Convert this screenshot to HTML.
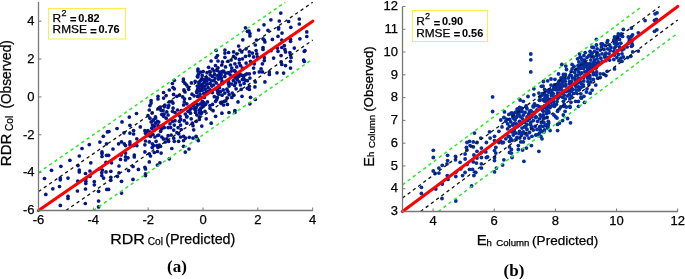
<!DOCTYPE html>
<html><head><meta charset="utf-8"><style>
html,body{margin:0;padding:0;background:#fff;overflow:hidden;}
svg{display:block;will-change:transform;}
text{stroke:#000;stroke-width:0.25px;}
</style></head><body>
<svg width="685" height="279" viewBox="0 0 685 279">
<g fill="#02168a">
<circle cx="51.5" cy="170.3" r="1.85"/>
<circle cx="60.9" cy="166.3" r="1.85"/>
<circle cx="69.9" cy="160.3" r="1.85"/>
<circle cx="79.3" cy="156.0" r="1.85"/>
<circle cx="82.0" cy="148.5" r="1.85"/>
<circle cx="89.3" cy="144.6" r="1.85"/>
<circle cx="99.9" cy="142.1" r="1.85"/>
<circle cx="106.5" cy="143.8" r="1.85"/>
<circle cx="102.0" cy="151.9" r="1.85"/>
<circle cx="102.0" cy="153.5" r="1.85"/>
<circle cx="102.0" cy="156.5" r="1.85"/>
<circle cx="106.5" cy="155.3" r="1.85"/>
<circle cx="90.8" cy="162.8" r="1.85"/>
<circle cx="78.0" cy="165.6" r="1.85"/>
<circle cx="79.3" cy="170.0" r="1.85"/>
<circle cx="79.3" cy="171.9" r="1.85"/>
<circle cx="85.5" cy="173.5" r="1.85"/>
<circle cx="89.9" cy="171.0" r="1.85"/>
<circle cx="99.3" cy="168.8" r="1.85"/>
<circle cx="102.4" cy="170.0" r="1.85"/>
<circle cx="101.8" cy="172.5" r="1.85"/>
<circle cx="106.0" cy="162.3" r="1.85"/>
<circle cx="106.0" cy="171.9" r="1.85"/>
<circle cx="44.5" cy="178.5" r="1.85"/>
<circle cx="60.3" cy="178.1" r="1.85"/>
<circle cx="60.3" cy="179.8" r="1.85"/>
<circle cx="68.0" cy="178.1" r="1.85"/>
<circle cx="52.8" cy="188.8" r="1.85"/>
<circle cx="59.5" cy="186.5" r="1.85"/>
<circle cx="45.8" cy="194.4" r="1.85"/>
<circle cx="68.0" cy="196.3" r="1.85"/>
<circle cx="68.0" cy="198.5" r="1.85"/>
<circle cx="60.3" cy="205.4" r="1.85"/>
<circle cx="77.4" cy="191.0" r="1.85"/>
<circle cx="77.8" cy="181.0" r="1.85"/>
<circle cx="85.8" cy="178.8" r="1.85"/>
<circle cx="85.8" cy="181.3" r="1.85"/>
<circle cx="85.8" cy="183.5" r="1.85"/>
<circle cx="85.5" cy="189.0" r="1.85"/>
<circle cx="89.9" cy="176.3" r="1.85"/>
<circle cx="94.3" cy="181.5" r="1.85"/>
<circle cx="94.3" cy="184.8" r="1.85"/>
<circle cx="98.6" cy="191.3" r="1.85"/>
<circle cx="101.8" cy="175.6" r="1.85"/>
<circle cx="103.6" cy="178.1" r="1.85"/>
<circle cx="106.8" cy="189.4" r="1.85"/>
<circle cx="85.3" cy="203.5" r="1.85"/>
<circle cx="98.6" cy="201.0" r="1.85"/>
<circle cx="98.6" cy="206.9" r="1.85"/>
<circle cx="110.8" cy="177.3" r="1.85"/>
<circle cx="110.8" cy="180.3" r="1.85"/>
<circle cx="117.4" cy="176.3" r="1.85"/>
<circle cx="121.5" cy="181.3" r="1.85"/>
<circle cx="133.0" cy="179.4" r="1.85"/>
<circle cx="145.5" cy="175.6" r="1.85"/>
<circle cx="108.6" cy="189.4" r="1.85"/>
<circle cx="121.5" cy="193.1" r="1.85"/>
<circle cx="113.0" cy="149.0" r="1.85"/>
<circle cx="108.6" cy="155.3" r="1.85"/>
<circle cx="111.5" cy="162.8" r="1.85"/>
<circle cx="110.8" cy="171.3" r="1.85"/>
<circle cx="119.0" cy="166.0" r="1.85"/>
<circle cx="119.0" cy="172.8" r="1.85"/>
<circle cx="120.5" cy="159.4" r="1.85"/>
<circle cx="121.1" cy="155.0" r="1.85"/>
<circle cx="125.5" cy="153.1" r="1.85"/>
<circle cx="125.5" cy="156.9" r="1.85"/>
<circle cx="125.5" cy="160.0" r="1.85"/>
<circle cx="128.0" cy="157.8" r="1.85"/>
<circle cx="134.3" cy="155.0" r="1.85"/>
<circle cx="134.3" cy="156.9" r="1.85"/>
<circle cx="128.6" cy="170.6" r="1.85"/>
<circle cx="133.0" cy="166.5" r="1.85"/>
<circle cx="138.4" cy="169.4" r="1.85"/>
<circle cx="118.6" cy="143.8" r="1.85"/>
<circle cx="121.5" cy="141.9" r="1.85"/>
<circle cx="124.3" cy="143.8" r="1.85"/>
<circle cx="125.5" cy="145.6" r="1.85"/>
<circle cx="129.9" cy="141.9" r="1.85"/>
<circle cx="129.9" cy="144.4" r="1.85"/>
<circle cx="133.6" cy="145.6" r="1.85"/>
<circle cx="136.8" cy="145.6" r="1.85"/>
<circle cx="144.9" cy="144.8" r="1.85"/>
<circle cx="144.9" cy="151.9" r="1.85"/>
<circle cx="145.5" cy="141.0" r="1.85"/>
<circle cx="149.3" cy="141.9" r="1.85"/>
<circle cx="149.3" cy="153.8" r="1.85"/>
<circle cx="150.5" cy="156.0" r="1.85"/>
<circle cx="149.3" cy="161.9" r="1.85"/>
<circle cx="144.9" cy="167.3" r="1.85"/>
<circle cx="145.5" cy="169.0" r="1.85"/>
<circle cx="152.4" cy="143.8" r="1.85"/>
<circle cx="153.6" cy="145.6" r="1.85"/>
<circle cx="156.1" cy="141.3" r="1.85"/>
<circle cx="156.8" cy="145.6" r="1.85"/>
<circle cx="159.3" cy="145.0" r="1.85"/>
<circle cx="158.0" cy="147.5" r="1.85"/>
<circle cx="160.5" cy="146.3" r="1.85"/>
<circle cx="154.3" cy="152.5" r="1.85"/>
<circle cx="157.4" cy="151.5" r="1.85"/>
<circle cx="161.1" cy="153.1" r="1.85"/>
<circle cx="159.9" cy="162.8" r="1.85"/>
<circle cx="157.4" cy="165.0" r="1.85"/>
<circle cx="169.3" cy="158.8" r="1.85"/>
<circle cx="171.8" cy="148.5" r="1.85"/>
<circle cx="168.6" cy="141.3" r="1.85"/>
<circle cx="174.3" cy="141.3" r="1.85"/>
<circle cx="145.5" cy="173.8" r="1.85"/>
<circle cx="178.6" cy="141.3" r="1.85"/>
<circle cx="183.6" cy="140.6" r="1.85"/>
<circle cx="183.6" cy="146.3" r="1.85"/>
<circle cx="189.0" cy="149.0" r="1.85"/>
<circle cx="185.3" cy="152.1" r="1.85"/>
<circle cx="198.3" cy="140.6" r="1.85"/>
<circle cx="103.3" cy="136.3" r="1.85"/>
<circle cx="107.4" cy="131.9" r="1.85"/>
<circle cx="109.0" cy="131.5" r="1.85"/>
<circle cx="117.0" cy="128.5" r="1.85"/>
<circle cx="122.0" cy="121.9" r="1.85"/>
<circle cx="129.3" cy="117.1" r="1.85"/>
<circle cx="136.5" cy="113.5" r="1.85"/>
<circle cx="129.9" cy="125.3" r="1.85"/>
<circle cx="124.0" cy="132.8" r="1.85"/>
<circle cx="129.9" cy="133.1" r="1.85"/>
<circle cx="133.6" cy="130.6" r="1.85"/>
<circle cx="133.6" cy="134.0" r="1.85"/>
<circle cx="140.3" cy="126.9" r="1.85"/>
<circle cx="136.8" cy="138.8" r="1.85"/>
<circle cx="149.9" cy="105.6" r="1.85"/>
<circle cx="149.3" cy="110.0" r="1.85"/>
<circle cx="158.0" cy="108.8" r="1.85"/>
<circle cx="148.0" cy="115.7" r="1.85"/>
<circle cx="149.9" cy="118.2" r="1.85"/>
<circle cx="151.2" cy="121.9" r="1.85"/>
<circle cx="153.0" cy="120.7" r="1.85"/>
<circle cx="155.5" cy="123.2" r="1.85"/>
<circle cx="157.4" cy="121.3" r="1.85"/>
<circle cx="152.4" cy="125.1" r="1.85"/>
<circle cx="154.3" cy="126.3" r="1.85"/>
<circle cx="151.8" cy="128.2" r="1.85"/>
<circle cx="144.9" cy="130.7" r="1.85"/>
<circle cx="145.5" cy="133.2" r="1.85"/>
<circle cx="154.3" cy="130.1" r="1.85"/>
<circle cx="150.5" cy="132.0" r="1.85"/>
<circle cx="153.0" cy="134.5" r="1.85"/>
<circle cx="150.5" cy="136.3" r="1.85"/>
<circle cx="154.9" cy="137.0" r="1.85"/>
<circle cx="158.7" cy="135.1" r="1.85"/>
<circle cx="160.6" cy="131.3" r="1.85"/>
<circle cx="161.8" cy="137.0" r="1.85"/>
<circle cx="161.8" cy="114.4" r="1.85"/>
<circle cx="163.7" cy="116.3" r="1.85"/>
<circle cx="163.1" cy="110.6" r="1.85"/>
<circle cx="166.8" cy="111.9" r="1.85"/>
<circle cx="168.1" cy="107.5" r="1.85"/>
<circle cx="168.1" cy="115.0" r="1.85"/>
<circle cx="166.2" cy="118.2" r="1.85"/>
<circle cx="168.7" cy="105.6" r="1.85"/>
<circle cx="173.1" cy="108.1" r="1.85"/>
<circle cx="172.5" cy="111.3" r="1.85"/>
<circle cx="175.0" cy="112.5" r="1.85"/>
<circle cx="177.5" cy="110.0" r="1.85"/>
<circle cx="178.1" cy="114.4" r="1.85"/>
<circle cx="180.0" cy="116.3" r="1.85"/>
<circle cx="181.2" cy="110.6" r="1.85"/>
<circle cx="172.5" cy="121.3" r="1.85"/>
<circle cx="175.0" cy="120.7" r="1.85"/>
<circle cx="179.4" cy="121.3" r="1.85"/>
<circle cx="180.6" cy="119.4" r="1.85"/>
<circle cx="170.0" cy="123.8" r="1.85"/>
<circle cx="174.3" cy="125.1" r="1.85"/>
<circle cx="168.1" cy="127.6" r="1.85"/>
<circle cx="170.6" cy="127.6" r="1.85"/>
<circle cx="164.3" cy="127.6" r="1.85"/>
<circle cx="161.8" cy="128.8" r="1.85"/>
<circle cx="173.7" cy="130.1" r="1.85"/>
<circle cx="178.1" cy="127.6" r="1.85"/>
<circle cx="180.6" cy="125.1" r="1.85"/>
<circle cx="181.2" cy="129.5" r="1.85"/>
<circle cx="176.9" cy="132.6" r="1.85"/>
<circle cx="178.7" cy="133.8" r="1.85"/>
<circle cx="171.2" cy="135.1" r="1.85"/>
<circle cx="168.1" cy="135.7" r="1.85"/>
<circle cx="180.6" cy="137.0" r="1.85"/>
<circle cx="173.7" cy="138.2" r="1.85"/>
<circle cx="166.8" cy="138.9" r="1.85"/>
<circle cx="163.1" cy="125.1" r="1.85"/>
<circle cx="158.0" cy="125.7" r="1.85"/>
<circle cx="184.3" cy="101.9" r="1.85"/>
<circle cx="186.8" cy="103.8" r="1.85"/>
<circle cx="183.6" cy="105.0" r="1.85"/>
<circle cx="188.0" cy="111.3" r="1.85"/>
<circle cx="189.9" cy="110.0" r="1.85"/>
<circle cx="190.5" cy="113.2" r="1.85"/>
<circle cx="186.8" cy="116.3" r="1.85"/>
<circle cx="184.3" cy="120.7" r="1.85"/>
<circle cx="186.8" cy="123.2" r="1.85"/>
<circle cx="191.2" cy="118.8" r="1.85"/>
<circle cx="192.4" cy="123.2" r="1.85"/>
<circle cx="193.0" cy="125.7" r="1.85"/>
<circle cx="193.7" cy="129.8" r="1.85"/>
<circle cx="196.2" cy="121.3" r="1.85"/>
<circle cx="196.2" cy="107.5" r="1.85"/>
<circle cx="195.5" cy="112.5" r="1.85"/>
<circle cx="196.8" cy="115.0" r="1.85"/>
<circle cx="199.3" cy="110.0" r="1.85"/>
<circle cx="199.3" cy="116.9" r="1.85"/>
<circle cx="199.3" cy="119.4" r="1.85"/>
<circle cx="200.6" cy="103.8" r="1.85"/>
<circle cx="201.8" cy="107.5" r="1.85"/>
<circle cx="201.8" cy="112.5" r="1.85"/>
<circle cx="202.4" cy="101.3" r="1.85"/>
<circle cx="204.3" cy="105.0" r="1.85"/>
<circle cx="205.0" cy="111.3" r="1.85"/>
<circle cx="206.2" cy="118.8" r="1.85"/>
<circle cx="201.8" cy="126.1" r="1.85"/>
<circle cx="207.5" cy="101.9" r="1.85"/>
<circle cx="210.0" cy="105.6" r="1.85"/>
<circle cx="210.0" cy="108.2" r="1.85"/>
<circle cx="212.5" cy="104.4" r="1.85"/>
<circle cx="213.1" cy="110.7" r="1.85"/>
<circle cx="215.6" cy="101.3" r="1.85"/>
<circle cx="215.6" cy="116.3" r="1.85"/>
<circle cx="211.2" cy="123.2" r="1.85"/>
<circle cx="220.6" cy="102.5" r="1.85"/>
<circle cx="221.9" cy="113.2" r="1.85"/>
<circle cx="198.0" cy="105.0" r="1.85"/>
<circle cx="194.3" cy="108.8" r="1.85"/>
<circle cx="183.6" cy="136.3" r="1.85"/>
<circle cx="185.5" cy="138.1" r="1.85"/>
<circle cx="189.3" cy="137.3" r="1.85"/>
<circle cx="193.0" cy="138.1" r="1.85"/>
<circle cx="196.1" cy="136.3" r="1.85"/>
<circle cx="197.4" cy="138.8" r="1.85"/>
<circle cx="224.3" cy="101.3" r="1.85"/>
<circle cx="223.6" cy="105.0" r="1.85"/>
<circle cx="227.4" cy="104.4" r="1.85"/>
<circle cx="238.0" cy="101.9" r="1.85"/>
<circle cx="229.0" cy="112.5" r="1.85"/>
<circle cx="234.9" cy="110.6" r="1.85"/>
<circle cx="234.9" cy="112.5" r="1.85"/>
<circle cx="174.3" cy="80.3" r="1.85"/>
<circle cx="172.4" cy="83.5" r="1.85"/>
<circle cx="173.0" cy="87.5" r="1.85"/>
<circle cx="174.3" cy="88.8" r="1.85"/>
<circle cx="169.3" cy="90.0" r="1.85"/>
<circle cx="163.6" cy="92.5" r="1.85"/>
<circle cx="166.1" cy="95.6" r="1.85"/>
<circle cx="163.6" cy="98.1" r="1.85"/>
<circle cx="158.0" cy="96.3" r="1.85"/>
<circle cx="158.0" cy="99.0" r="1.85"/>
<circle cx="151.1" cy="100.6" r="1.85"/>
<circle cx="151.1" cy="103.1" r="1.85"/>
<circle cx="173.6" cy="94.4" r="1.85"/>
<circle cx="176.8" cy="96.3" r="1.85"/>
<circle cx="169.3" cy="101.9" r="1.85"/>
<circle cx="171.8" cy="101.3" r="1.85"/>
<circle cx="173.0" cy="103.1" r="1.85"/>
<circle cx="242.8" cy="39.8" r="1.85"/>
<circle cx="238.6" cy="46.0" r="1.85"/>
<circle cx="239.9" cy="50.0" r="1.85"/>
<circle cx="241.8" cy="51.9" r="1.85"/>
<circle cx="233.6" cy="51.9" r="1.85"/>
<circle cx="228.6" cy="52.5" r="1.85"/>
<circle cx="224.9" cy="50.0" r="1.85"/>
<circle cx="224.9" cy="53.1" r="1.85"/>
<circle cx="216.1" cy="50.3" r="1.85"/>
<circle cx="217.4" cy="55.6" r="1.85"/>
<circle cx="216.1" cy="57.5" r="1.85"/>
<circle cx="224.9" cy="57.3" r="1.85"/>
<circle cx="211.1" cy="61.0" r="1.85"/>
<circle cx="218.0" cy="61.0" r="1.85"/>
<circle cx="222.4" cy="61.9" r="1.85"/>
<circle cx="228.0" cy="61.3" r="1.85"/>
<circle cx="233.6" cy="56.3" r="1.85"/>
<circle cx="235.5" cy="58.1" r="1.85"/>
<circle cx="236.8" cy="53.8" r="1.85"/>
<circle cx="231.1" cy="60.0" r="1.85"/>
<circle cx="239.3" cy="59.4" r="1.85"/>
<circle cx="242.4" cy="58.8" r="1.85"/>
<circle cx="245.5" cy="56.3" r="1.85"/>
<circle cx="208.6" cy="67.3" r="1.85"/>
<circle cx="198.0" cy="69.0" r="1.85"/>
<circle cx="215.5" cy="65.6" r="1.85"/>
<circle cx="218.0" cy="67.8" r="1.85"/>
<circle cx="221.8" cy="65.0" r="1.85"/>
<circle cx="225.5" cy="66.9" r="1.85"/>
<circle cx="230.5" cy="65.0" r="1.85"/>
<circle cx="231.8" cy="68.1" r="1.85"/>
<circle cx="234.9" cy="63.8" r="1.85"/>
<circle cx="236.8" cy="66.9" r="1.85"/>
<circle cx="239.3" cy="63.1" r="1.85"/>
<circle cx="240.5" cy="65.6" r="1.85"/>
<circle cx="242.4" cy="68.1" r="1.85"/>
<circle cx="246.1" cy="63.1" r="1.85"/>
<circle cx="212.4" cy="69.0" r="1.85"/>
<circle cx="246.1" cy="48.8" r="1.85"/>
<circle cx="245.5" cy="27.8" r="1.85"/>
<circle cx="247.4" cy="31.3" r="1.85"/>
<circle cx="280.8" cy="13.1" r="1.85"/>
<circle cx="270.9" cy="19.8" r="1.85"/>
<circle cx="279.3" cy="21.0" r="1.85"/>
<circle cx="264.0" cy="24.8" r="1.85"/>
<circle cx="258.6" cy="30.0" r="1.85"/>
<circle cx="268.0" cy="30.3" r="1.85"/>
<circle cx="278.6" cy="27.5" r="1.85"/>
<circle cx="278.6" cy="29.0" r="1.85"/>
<circle cx="282.0" cy="33.1" r="1.85"/>
<circle cx="288.6" cy="21.5" r="1.85"/>
<circle cx="290.8" cy="27.3" r="1.85"/>
<circle cx="299.3" cy="19.0" r="1.85"/>
<circle cx="299.3" cy="24.0" r="1.85"/>
<circle cx="306.8" cy="31.9" r="1.85"/>
<circle cx="249.0" cy="31.0" r="1.85"/>
<circle cx="249.9" cy="33.5" r="1.85"/>
<circle cx="249.9" cy="36.0" r="1.85"/>
<circle cx="256.5" cy="40.0" r="1.85"/>
<circle cx="255.3" cy="45.0" r="1.85"/>
<circle cx="263.0" cy="38.8" r="1.85"/>
<circle cx="264.3" cy="40.0" r="1.85"/>
<circle cx="264.9" cy="41.9" r="1.85"/>
<circle cx="272.4" cy="39.4" r="1.85"/>
<circle cx="278.0" cy="36.3" r="1.85"/>
<circle cx="281.8" cy="40.0" r="1.85"/>
<circle cx="290.5" cy="39.4" r="1.85"/>
<circle cx="290.5" cy="41.3" r="1.85"/>
<circle cx="263.0" cy="47.5" r="1.85"/>
<circle cx="263.0" cy="49.4" r="1.85"/>
<circle cx="249.3" cy="51.9" r="1.85"/>
<circle cx="252.4" cy="53.1" r="1.85"/>
<circle cx="256.1" cy="50.6" r="1.85"/>
<circle cx="256.8" cy="53.8" r="1.85"/>
<circle cx="249.3" cy="55.6" r="1.85"/>
<circle cx="253.6" cy="56.9" r="1.85"/>
<circle cx="257.4" cy="56.9" r="1.85"/>
<circle cx="250.5" cy="61.3" r="1.85"/>
<circle cx="254.3" cy="63.8" r="1.85"/>
<circle cx="253.6" cy="68.1" r="1.85"/>
<circle cx="261.1" cy="68.8" r="1.85"/>
<circle cx="262.4" cy="63.8" r="1.85"/>
<circle cx="264.3" cy="57.5" r="1.85"/>
<circle cx="264.3" cy="60.6" r="1.85"/>
<circle cx="271.1" cy="50.6" r="1.85"/>
<circle cx="273.6" cy="58.1" r="1.85"/>
<circle cx="277.4" cy="48.1" r="1.85"/>
<circle cx="278.0" cy="51.3" r="1.85"/>
<circle cx="281.8" cy="47.5" r="1.85"/>
<circle cx="284.3" cy="45.6" r="1.85"/>
<circle cx="284.9" cy="49.4" r="1.85"/>
<circle cx="285.5" cy="51.9" r="1.85"/>
<circle cx="281.1" cy="55.6" r="1.85"/>
<circle cx="281.1" cy="61.9" r="1.85"/>
<circle cx="281.8" cy="64.4" r="1.85"/>
<circle cx="285.5" cy="65.6" r="1.85"/>
<circle cx="289.9" cy="52.5" r="1.85"/>
<circle cx="290.5" cy="55.0" r="1.85"/>
<circle cx="291.1" cy="57.5" r="1.85"/>
<circle cx="290.5" cy="61.3" r="1.85"/>
<circle cx="290.5" cy="68.1" r="1.85"/>
<circle cx="294.3" cy="48.1" r="1.85"/>
<circle cx="299.9" cy="38.8" r="1.85"/>
<circle cx="306.8" cy="36.5" r="1.85"/>
<circle cx="304.3" cy="51.3" r="1.85"/>
<circle cx="304.9" cy="50.6" r="1.85"/>
<circle cx="303.6" cy="60.0" r="1.85"/>
<circle cx="304.3" cy="61.5" r="1.85"/>
<circle cx="249.3" cy="73.8" r="1.85"/>
<circle cx="249.9" cy="78.1" r="1.85"/>
<circle cx="254.3" cy="72.8" r="1.85"/>
<circle cx="259.3" cy="71.9" r="1.85"/>
<circle cx="262.4" cy="71.9" r="1.85"/>
<circle cx="269.3" cy="71.9" r="1.85"/>
<circle cx="269.3" cy="74.4" r="1.85"/>
<circle cx="277.0" cy="72.8" r="1.85"/>
<circle cx="283.6" cy="73.1" r="1.85"/>
<circle cx="255.3" cy="81.9" r="1.85"/>
<circle cx="264.9" cy="81.9" r="1.85"/>
<circle cx="249.3" cy="86.3" r="1.85"/>
<circle cx="254.9" cy="86.9" r="1.85"/>
<circle cx="249.3" cy="89.4" r="1.85"/>
<circle cx="250.5" cy="97.3" r="1.85"/>
<circle cx="255.3" cy="99.4" r="1.85"/>
<circle cx="249.9" cy="103.8" r="1.85"/>
<circle cx="183.4" cy="79.1" r="1.85"/>
<circle cx="183.4" cy="81.3" r="1.85"/>
<circle cx="185.0" cy="83.4" r="1.85"/>
<circle cx="186.6" cy="85.0" r="1.85"/>
<circle cx="188.2" cy="87.2" r="1.85"/>
<circle cx="188.7" cy="89.3" r="1.85"/>
<circle cx="183.9" cy="89.9" r="1.85"/>
<circle cx="185.0" cy="92.0" r="1.85"/>
<circle cx="179.6" cy="95.2" r="1.85"/>
<circle cx="182.8" cy="96.9" r="1.85"/>
<circle cx="191.4" cy="82.9" r="1.85"/>
<circle cx="195.2" cy="81.3" r="1.85"/>
<circle cx="192.0" cy="94.2" r="1.85"/>
<circle cx="194.1" cy="95.8" r="1.85"/>
<circle cx="189.8" cy="98.5" r="1.85"/>
<circle cx="197.9" cy="71.1" r="1.85"/>
<circle cx="200.6" cy="72.1" r="1.85"/>
<circle cx="203.2" cy="71.6" r="1.85"/>
<circle cx="198.4" cy="74.3" r="1.85"/>
<circle cx="197.9" cy="77.0" r="1.85"/>
<circle cx="202.2" cy="75.4" r="1.85"/>
<circle cx="207.0" cy="72.7" r="1.85"/>
<circle cx="209.7" cy="71.6" r="1.85"/>
<circle cx="210.2" cy="74.8" r="1.85"/>
<circle cx="206.5" cy="77.5" r="1.85"/>
<circle cx="204.3" cy="79.7" r="1.85"/>
<circle cx="201.1" cy="80.2" r="1.85"/>
<circle cx="198.9" cy="82.9" r="1.85"/>
<circle cx="199.5" cy="85.6" r="1.85"/>
<circle cx="202.2" cy="84.0" r="1.85"/>
<circle cx="204.3" cy="82.4" r="1.85"/>
<circle cx="207.0" cy="80.7" r="1.85"/>
<circle cx="209.1" cy="79.1" r="1.85"/>
<circle cx="211.3" cy="80.7" r="1.85"/>
<circle cx="207.5" cy="84.0" r="1.85"/>
<circle cx="210.2" cy="83.4" r="1.85"/>
<circle cx="211.8" cy="86.1" r="1.85"/>
<circle cx="204.9" cy="86.1" r="1.85"/>
<circle cx="202.7" cy="87.7" r="1.85"/>
<circle cx="198.4" cy="88.3" r="1.85"/>
<circle cx="199.5" cy="90.9" r="1.85"/>
<circle cx="202.2" cy="90.4" r="1.85"/>
<circle cx="205.4" cy="89.3" r="1.85"/>
<circle cx="208.1" cy="87.7" r="1.85"/>
<circle cx="210.2" cy="89.9" r="1.85"/>
<circle cx="205.9" cy="92.6" r="1.85"/>
<circle cx="203.8" cy="93.6" r="1.85"/>
<circle cx="200.0" cy="94.2" r="1.85"/>
<circle cx="197.9" cy="96.3" r="1.85"/>
<circle cx="201.1" cy="97.4" r="1.85"/>
<circle cx="208.1" cy="91.5" r="1.85"/>
<circle cx="196.8" cy="92.6" r="1.85"/>
<circle cx="197.3" cy="86.1" r="1.85"/>
<circle cx="212.4" cy="76.4" r="1.85"/>
<circle cx="212.4" cy="92.6" r="1.85"/>
<circle cx="214.1" cy="71.1" r="1.85"/>
<circle cx="217.3" cy="70.5" r="1.85"/>
<circle cx="219.4" cy="72.1" r="1.85"/>
<circle cx="214.6" cy="74.3" r="1.85"/>
<circle cx="217.8" cy="75.4" r="1.85"/>
<circle cx="221.1" cy="74.8" r="1.85"/>
<circle cx="215.1" cy="78.1" r="1.85"/>
<circle cx="218.4" cy="79.1" r="1.85"/>
<circle cx="221.6" cy="78.1" r="1.85"/>
<circle cx="223.7" cy="71.1" r="1.85"/>
<circle cx="225.4" cy="73.2" r="1.85"/>
<circle cx="228.0" cy="72.7" r="1.85"/>
<circle cx="230.2" cy="74.8" r="1.85"/>
<circle cx="224.8" cy="76.4" r="1.85"/>
<circle cx="214.1" cy="80.7" r="1.85"/>
<circle cx="216.2" cy="82.9" r="1.85"/>
<circle cx="213.5" cy="85.0" r="1.85"/>
<circle cx="231.3" cy="71.1" r="1.85"/>
<circle cx="234.5" cy="70.5" r="1.85"/>
<circle cx="219.4" cy="87.7" r="1.85"/>
<circle cx="217.3" cy="90.4" r="1.85"/>
<circle cx="220.5" cy="91.5" r="1.85"/>
<circle cx="223.2" cy="89.9" r="1.85"/>
<circle cx="218.9" cy="94.2" r="1.85"/>
<circle cx="222.1" cy="95.2" r="1.85"/>
<circle cx="217.3" cy="97.4" r="1.85"/>
<circle cx="224.8" cy="93.1" r="1.85"/>
<circle cx="228.0" cy="91.5" r="1.85"/>
<circle cx="229.1" cy="94.7" r="1.85"/>
<circle cx="232.3" cy="93.1" r="1.85"/>
<circle cx="233.9" cy="95.2" r="1.85"/>
<circle cx="227.0" cy="97.9" r="1.85"/>
<circle cx="231.8" cy="97.4" r="1.85"/>
<circle cx="229.1" cy="86.1" r="1.85"/>
<circle cx="231.8" cy="84.0" r="1.85"/>
<circle cx="233.4" cy="80.7" r="1.85"/>
<circle cx="235.6" cy="82.9" r="1.85"/>
<circle cx="234.5" cy="85.6" r="1.85"/>
<circle cx="237.2" cy="79.7" r="1.85"/>
<circle cx="239.3" cy="81.8" r="1.85"/>
<circle cx="240.4" cy="85.0" r="1.85"/>
<circle cx="237.7" cy="75.9" r="1.85"/>
<circle cx="239.9" cy="73.8" r="1.85"/>
<circle cx="242.0" cy="75.4" r="1.85"/>
<circle cx="243.6" cy="78.1" r="1.85"/>
<circle cx="245.2" cy="80.2" r="1.85"/>
<circle cx="244.1" cy="83.4" r="1.85"/>
<circle cx="246.8" cy="73.8" r="1.85"/>
<circle cx="247.4" cy="80.7" r="1.85"/>
<circle cx="242.0" cy="96.3" r="1.85"/>
<circle cx="236.1" cy="88.8" r="1.85"/>
<circle cx="235.0" cy="77.5" r="1.85"/>
<circle cx="232.9" cy="76.4" r="1.85"/>
<circle cx="247.4" cy="88.3" r="1.85"/>
<circle cx="216.7" cy="99.5" r="1.85"/>
<circle cx="238.9" cy="76.4" r="1.85"/>
<circle cx="206.9" cy="84.0" r="1.85"/>
<circle cx="222.6" cy="83.4" r="1.85"/>
<circle cx="201.9" cy="78.6" r="1.85"/>
<circle cx="197.6" cy="89.6" r="1.85"/>
<circle cx="235.1" cy="71.3" r="1.85"/>
<circle cx="239.3" cy="74.1" r="1.85"/>
<circle cx="226.9" cy="89.2" r="1.85"/>
<circle cx="228.3" cy="80.7" r="1.85"/>
<circle cx="217.5" cy="90.3" r="1.85"/>
<circle cx="217.8" cy="93.0" r="1.85"/>
<circle cx="218.9" cy="85.3" r="1.85"/>
<circle cx="196.7" cy="91.6" r="1.85"/>
<circle cx="221.1" cy="78.2" r="1.85"/>
<circle cx="219.5" cy="76.3" r="1.85"/>
<circle cx="220.2" cy="73.7" r="1.85"/>
<circle cx="202.2" cy="85.0" r="1.85"/>
<circle cx="200.3" cy="85.4" r="1.85"/>
<circle cx="222.2" cy="71.4" r="1.85"/>
<circle cx="228.8" cy="72.9" r="1.85"/>
<circle cx="222.3" cy="71.9" r="1.85"/>
<circle cx="221.9" cy="83.2" r="1.85"/>
<circle cx="245.2" cy="74.8" r="1.85"/>
<circle cx="205.6" cy="104.3" r="1.85"/>
<circle cx="221.2" cy="103.4" r="1.85"/>
<circle cx="243.4" cy="75.8" r="1.85"/>
<circle cx="198.9" cy="82.2" r="1.85"/>
<circle cx="235.0" cy="75.5" r="1.85"/>
<circle cx="242.4" cy="79.6" r="1.85"/>
<circle cx="238.2" cy="75.0" r="1.85"/>
<circle cx="221.8" cy="102.1" r="1.85"/>
<circle cx="206.4" cy="79.2" r="1.85"/>
<circle cx="222.0" cy="81.1" r="1.85"/>
<circle cx="197.4" cy="76.4" r="1.85"/>
<circle cx="203.9" cy="102.7" r="1.85"/>
<circle cx="204.3" cy="97.4" r="1.85"/>
<circle cx="201.5" cy="88.5" r="1.85"/>
<circle cx="228.8" cy="82.6" r="1.85"/>
<circle cx="241.2" cy="89.4" r="1.85"/>
<circle cx="225.8" cy="100.8" r="1.85"/>
<circle cx="228.4" cy="83.8" r="1.85"/>
<circle cx="237.2" cy="79.2" r="1.85"/>
<circle cx="214.3" cy="96.7" r="1.85"/>
<circle cx="218.6" cy="76.2" r="1.85"/>
<circle cx="202.3" cy="104.5" r="1.85"/>
<circle cx="203.2" cy="106.5" r="1.85"/>
<circle cx="201.0" cy="113.8" r="1.85"/>
<circle cx="200.3" cy="110.6" r="1.85"/>
<circle cx="196.9" cy="104.0" r="1.85"/>
<circle cx="193.4" cy="105.5" r="1.85"/>
<circle cx="200.7" cy="108.3" r="1.85"/>
<circle cx="199.4" cy="113.0" r="1.85"/>
<circle cx="160.2" cy="107.0" r="1.85"/>
<circle cx="164.9" cy="105.2" r="1.85"/>
<circle cx="159.0" cy="108.2" r="1.85"/>
<circle cx="160.0" cy="108.2" r="1.85"/>
<circle cx="161.0" cy="110.3" r="1.85"/>
<circle cx="164.3" cy="106.8" r="1.85"/>
<circle cx="160.1" cy="127.8" r="1.85"/>
<circle cx="152.1" cy="112.9" r="1.85"/>
<circle cx="149.0" cy="135.4" r="1.85"/>
<circle cx="165.3" cy="142.0" r="1.85"/>
<circle cx="155.4" cy="118.2" r="1.85"/>
<circle cx="147.2" cy="135.7" r="1.85"/>
<circle cx="158.8" cy="122.1" r="1.85"/>
<circle cx="160.6" cy="126.4" r="1.85"/>
<circle cx="152.2" cy="147.6" r="1.85"/>
<circle cx="147.9" cy="130.5" r="1.85"/>
<circle cx="155.5" cy="116.9" r="1.85"/>
<circle cx="147.3" cy="131.3" r="1.85"/>
<circle cx="151.2" cy="134.0" r="1.85"/>
<circle cx="157.6" cy="135.5" r="1.85"/>
<circle cx="164.1" cy="114.0" r="1.85"/>
<circle cx="153.5" cy="119.8" r="1.85"/>
<circle cx="163.4" cy="138.9" r="1.85"/>
<circle cx="162.6" cy="127.4" r="1.85"/>
<circle cx="194.8" cy="108.7" r="1.85"/>
<circle cx="184.5" cy="98.9" r="1.85"/>
<circle cx="186.7" cy="117.0" r="1.85"/>
<circle cx="194.2" cy="103.4" r="1.85"/>
<circle cx="191.1" cy="108.2" r="1.85"/>
<circle cx="195.8" cy="110.7" r="1.85"/>
<circle cx="185.3" cy="114.0" r="1.85"/>
<circle cx="197.6" cy="96.4" r="1.85"/>
</g>
<g fill="#032c9c">
<circle cx="421.4" cy="187.3" r="1.9"/>
<circle cx="421.4" cy="193.5" r="1.9"/>
<circle cx="435.8" cy="189.0" r="1.9"/>
<circle cx="442.3" cy="184.0" r="1.9"/>
<circle cx="448.0" cy="179.4" r="1.9"/>
<circle cx="447.3" cy="175.6" r="1.9"/>
<circle cx="455.8" cy="176.5" r="1.9"/>
<circle cx="462.6" cy="175.6" r="1.9"/>
<circle cx="442.0" cy="198.5" r="1.9"/>
<circle cx="455.8" cy="201.0" r="1.9"/>
<circle cx="471.6" cy="186.0" r="1.9"/>
<circle cx="473.9" cy="175.5" r="1.9"/>
<circle cx="433.3" cy="150.3" r="1.9"/>
<circle cx="433.3" cy="157.5" r="1.9"/>
<circle cx="447.6" cy="155.3" r="1.9"/>
<circle cx="447.6" cy="160.6" r="1.9"/>
<circle cx="447.0" cy="163.8" r="1.9"/>
<circle cx="442.3" cy="165.3" r="1.9"/>
<circle cx="438.9" cy="168.1" r="1.9"/>
<circle cx="433.3" cy="171.0" r="1.9"/>
<circle cx="435.1" cy="173.5" r="1.9"/>
<circle cx="438.9" cy="173.1" r="1.9"/>
<circle cx="455.5" cy="156.3" r="1.9"/>
<circle cx="455.5" cy="159.8" r="1.9"/>
<circle cx="460.1" cy="162.3" r="1.9"/>
<circle cx="465.1" cy="154.0" r="1.9"/>
<circle cx="465.1" cy="159.0" r="1.9"/>
<circle cx="466.4" cy="147.5" r="1.9"/>
<circle cx="467.0" cy="150.0" r="1.9"/>
<circle cx="467.0" cy="142.5" r="1.9"/>
<circle cx="469.5" cy="141.3" r="1.9"/>
<circle cx="470.1" cy="145.6" r="1.9"/>
<circle cx="467.0" cy="164.4" r="1.9"/>
<circle cx="469.5" cy="169.4" r="1.9"/>
<circle cx="465.1" cy="172.5" r="1.9"/>
<circle cx="455.8" cy="172.3" r="1.9"/>
<circle cx="460.8" cy="168.8" r="1.9"/>
<circle cx="473.3" cy="141.9" r="1.9"/>
<circle cx="477.0" cy="142.5" r="1.9"/>
<circle cx="473.3" cy="146.9" r="1.9"/>
<circle cx="481.4" cy="148.1" r="1.9"/>
<circle cx="486.4" cy="142.5" r="1.9"/>
<circle cx="477.0" cy="151.3" r="1.9"/>
<circle cx="481.4" cy="152.5" r="1.9"/>
<circle cx="485.8" cy="151.9" r="1.9"/>
<circle cx="473.9" cy="155.0" r="1.9"/>
<circle cx="477.0" cy="158.1" r="1.9"/>
<circle cx="481.4" cy="157.5" r="1.9"/>
<circle cx="486.4" cy="157.5" r="1.9"/>
<circle cx="487.6" cy="156.9" r="1.9"/>
<circle cx="473.3" cy="161.9" r="1.9"/>
<circle cx="476.4" cy="163.1" r="1.9"/>
<circle cx="481.4" cy="163.8" r="1.9"/>
<circle cx="481.4" cy="168.1" r="1.9"/>
<circle cx="472.6" cy="169.4" r="1.9"/>
<circle cx="475.8" cy="172.5" r="1.9"/>
<circle cx="494.5" cy="140.6" r="1.9"/>
<circle cx="495.8" cy="147.5" r="1.9"/>
<circle cx="494.5" cy="150.6" r="1.9"/>
<circle cx="495.8" cy="153.1" r="1.9"/>
<circle cx="494.5" cy="157.5" r="1.9"/>
<circle cx="494.5" cy="160.6" r="1.9"/>
<circle cx="498.9" cy="142.5" r="1.9"/>
<circle cx="502.0" cy="142.8" r="1.9"/>
<circle cx="503.9" cy="159.8" r="1.9"/>
<circle cx="502.6" cy="165.0" r="1.9"/>
<circle cx="496.4" cy="168.1" r="1.9"/>
<circle cx="494.5" cy="171.9" r="1.9"/>
<circle cx="509.5" cy="141.3" r="1.9"/>
<circle cx="509.5" cy="146.9" r="1.9"/>
<circle cx="511.4" cy="149.4" r="1.9"/>
<circle cx="509.5" cy="152.5" r="1.9"/>
<circle cx="511.4" cy="153.1" r="1.9"/>
<circle cx="512.0" cy="157.5" r="1.9"/>
<circle cx="518.3" cy="145.6" r="1.9"/>
<circle cx="518.3" cy="149.4" r="1.9"/>
<circle cx="520.8" cy="141.9" r="1.9"/>
<circle cx="523.3" cy="141.9" r="1.9"/>
<circle cx="522.6" cy="150.0" r="1.9"/>
<circle cx="526.4" cy="148.1" r="1.9"/>
<circle cx="531.4" cy="145.6" r="1.9"/>
<circle cx="538.9" cy="151.3" r="1.9"/>
<circle cx="523.9" cy="161.3" r="1.9"/>
<circle cx="500.8" cy="141.3" r="1.9"/>
<circle cx="503.3" cy="142.5" r="1.9"/>
<circle cx="474.5" cy="133.1" r="1.9"/>
<circle cx="480.8" cy="138.1" r="1.9"/>
<circle cx="489.5" cy="131.9" r="1.9"/>
<circle cx="490.1" cy="138.1" r="1.9"/>
<circle cx="494.5" cy="136.3" r="1.9"/>
<circle cx="492.6" cy="111.5" r="1.9"/>
<circle cx="498.9" cy="131.3" r="1.9"/>
<circle cx="500.8" cy="120.0" r="1.9"/>
<circle cx="503.9" cy="117.5" r="1.9"/>
<circle cx="504.5" cy="111.9" r="1.9"/>
<circle cx="512.0" cy="113.1" r="1.9"/>
<circle cx="519.5" cy="107.5" r="1.9"/>
<circle cx="516.4" cy="111.9" r="1.9"/>
<circle cx="502.0" cy="126.9" r="1.9"/>
<circle cx="505.8" cy="121.3" r="1.9"/>
<circle cx="507.6" cy="123.8" r="1.9"/>
<circle cx="509.5" cy="119.4" r="1.9"/>
<circle cx="510.8" cy="121.9" r="1.9"/>
<circle cx="513.3" cy="117.5" r="1.9"/>
<circle cx="515.1" cy="120.0" r="1.9"/>
<circle cx="517.0" cy="116.3" r="1.9"/>
<circle cx="518.9" cy="114.4" r="1.9"/>
<circle cx="520.8" cy="116.9" r="1.9"/>
<circle cx="522.0" cy="111.3" r="1.9"/>
<circle cx="523.3" cy="115.0" r="1.9"/>
<circle cx="525.1" cy="112.5" r="1.9"/>
<circle cx="527.0" cy="108.8" r="1.9"/>
<circle cx="527.0" cy="116.9" r="1.9"/>
<circle cx="528.9" cy="114.4" r="1.9"/>
<circle cx="530.8" cy="110.6" r="1.9"/>
<circle cx="533.3" cy="106.9" r="1.9"/>
<circle cx="534.5" cy="112.5" r="1.9"/>
<circle cx="537.0" cy="110.0" r="1.9"/>
<circle cx="538.9" cy="106.3" r="1.9"/>
<circle cx="540.1" cy="115.0" r="1.9"/>
<circle cx="507.6" cy="128.8" r="1.9"/>
<circle cx="509.5" cy="126.3" r="1.9"/>
<circle cx="512.6" cy="125.0" r="1.9"/>
<circle cx="514.5" cy="128.1" r="1.9"/>
<circle cx="516.4" cy="123.8" r="1.9"/>
<circle cx="517.0" cy="126.9" r="1.9"/>
<circle cx="519.5" cy="121.3" r="1.9"/>
<circle cx="518.9" cy="125.6" r="1.9"/>
<circle cx="521.4" cy="123.8" r="1.9"/>
<circle cx="522.0" cy="128.1" r="1.9"/>
<circle cx="524.5" cy="122.5" r="1.9"/>
<circle cx="524.5" cy="126.9" r="1.9"/>
<circle cx="527.0" cy="124.4" r="1.9"/>
<circle cx="527.6" cy="120.6" r="1.9"/>
<circle cx="529.5" cy="118.8" r="1.9"/>
<circle cx="530.8" cy="122.5" r="1.9"/>
<circle cx="532.0" cy="116.9" r="1.9"/>
<circle cx="533.3" cy="120.6" r="1.9"/>
<circle cx="535.8" cy="117.5" r="1.9"/>
<circle cx="537.6" cy="121.3" r="1.9"/>
<circle cx="539.5" cy="118.8" r="1.9"/>
<circle cx="541.4" cy="122.5" r="1.9"/>
<circle cx="512.0" cy="131.9" r="1.9"/>
<circle cx="513.3" cy="135.0" r="1.9"/>
<circle cx="515.8" cy="133.1" r="1.9"/>
<circle cx="517.0" cy="137.5" r="1.9"/>
<circle cx="519.5" cy="131.3" r="1.9"/>
<circle cx="521.4" cy="135.0" r="1.9"/>
<circle cx="523.3" cy="131.9" r="1.9"/>
<circle cx="524.5" cy="138.1" r="1.9"/>
<circle cx="527.0" cy="129.4" r="1.9"/>
<circle cx="527.0" cy="135.0" r="1.9"/>
<circle cx="529.5" cy="132.5" r="1.9"/>
<circle cx="531.4" cy="127.5" r="1.9"/>
<circle cx="533.3" cy="130.0" r="1.9"/>
<circle cx="535.1" cy="126.3" r="1.9"/>
<circle cx="537.0" cy="129.4" r="1.9"/>
<circle cx="539.5" cy="126.9" r="1.9"/>
<circle cx="532.0" cy="136.3" r="1.9"/>
<circle cx="535.8" cy="135.0" r="1.9"/>
<circle cx="539.5" cy="133.1" r="1.9"/>
<circle cx="540.8" cy="136.3" r="1.9"/>
<circle cx="508.3" cy="136.3" r="1.9"/>
<circle cx="505.8" cy="138.8" r="1.9"/>
<circle cx="528.9" cy="138.1" r="1.9"/>
<circle cx="530.8" cy="71.9" r="1.9"/>
<circle cx="492.6" cy="96.9" r="1.9"/>
<circle cx="533.9" cy="88.8" r="1.9"/>
<circle cx="533.9" cy="94.8" r="1.9"/>
<circle cx="528.0" cy="96.5" r="1.9"/>
<circle cx="520.1" cy="100.0" r="1.9"/>
<circle cx="523.3" cy="101.3" r="1.9"/>
<circle cx="538.9" cy="93.1" r="1.9"/>
<circle cx="540.1" cy="96.9" r="1.9"/>
<circle cx="539.5" cy="100.0" r="1.9"/>
<circle cx="534.5" cy="103.8" r="1.9"/>
<circle cx="541.4" cy="86.3" r="1.9"/>
<circle cx="530.8" cy="54.0" r="1.9"/>
<circle cx="530.8" cy="59.8" r="1.9"/>
<circle cx="543.3" cy="107.5" r="1.9"/>
<circle cx="543.3" cy="111.3" r="1.9"/>
<circle cx="543.3" cy="115.0" r="1.9"/>
<circle cx="543.3" cy="118.8" r="1.9"/>
<circle cx="543.9" cy="122.5" r="1.9"/>
<circle cx="543.3" cy="126.3" r="1.9"/>
<circle cx="544.5" cy="130.0" r="1.9"/>
<circle cx="546.4" cy="108.8" r="1.9"/>
<circle cx="547.0" cy="117.5" r="1.9"/>
<circle cx="547.6" cy="124.4" r="1.9"/>
<circle cx="547.6" cy="127.5" r="1.9"/>
<circle cx="548.3" cy="121.3" r="1.9"/>
<circle cx="548.9" cy="112.5" r="1.9"/>
<circle cx="550.1" cy="107.5" r="1.9"/>
<circle cx="550.1" cy="130.6" r="1.9"/>
<circle cx="543.9" cy="131.9" r="1.9"/>
<circle cx="545.8" cy="125.6" r="1.9"/>
<circle cx="553.9" cy="115.0" r="1.9"/>
<circle cx="555.8" cy="116.9" r="1.9"/>
<circle cx="557.0" cy="118.1" r="1.9"/>
<circle cx="554.5" cy="106.3" r="1.9"/>
<circle cx="557.6" cy="111.3" r="1.9"/>
<circle cx="559.5" cy="108.8" r="1.9"/>
<circle cx="560.8" cy="106.9" r="1.9"/>
<circle cx="563.9" cy="106.3" r="1.9"/>
<circle cx="565.1" cy="111.3" r="1.9"/>
<circle cx="563.3" cy="115.0" r="1.9"/>
<circle cx="562.6" cy="120.6" r="1.9"/>
<circle cx="559.5" cy="123.1" r="1.9"/>
<circle cx="557.6" cy="124.4" r="1.9"/>
<circle cx="567.6" cy="118.5" r="1.9"/>
<circle cx="570.1" cy="107.3" r="1.9"/>
<circle cx="570.5" cy="122.8" r="1.9"/>
<circle cx="557.6" cy="130.6" r="1.9"/>
<circle cx="542.0" cy="138.8" r="1.9"/>
<circle cx="595.8" cy="85.1" r="1.9"/>
<circle cx="593.3" cy="79.4" r="1.9"/>
<circle cx="597.7" cy="78.2" r="1.9"/>
<circle cx="600.2" cy="77.5" r="1.9"/>
<circle cx="605.9" cy="75.6" r="1.9"/>
<circle cx="607.1" cy="71.3" r="1.9"/>
<circle cx="603.3" cy="73.8" r="1.9"/>
<circle cx="600.2" cy="73.8" r="1.9"/>
<circle cx="596.4" cy="75.0" r="1.9"/>
<circle cx="592.1" cy="90.1" r="1.9"/>
<circle cx="590.2" cy="93.2" r="1.9"/>
<circle cx="587.0" cy="88.8" r="1.9"/>
<circle cx="586.4" cy="92.0" r="1.9"/>
<circle cx="580.8" cy="93.8" r="1.9"/>
<circle cx="583.9" cy="96.3" r="1.9"/>
<circle cx="581.4" cy="98.2" r="1.9"/>
<circle cx="584.5" cy="102.4" r="1.9"/>
<circle cx="578.3" cy="101.4" r="1.9"/>
<circle cx="578.9" cy="90.1" r="1.9"/>
<circle cx="583.3" cy="86.3" r="1.9"/>
<circle cx="588.9" cy="84.4" r="1.9"/>
<circle cx="590.8" cy="81.9" r="1.9"/>
<circle cx="561.8" cy="64.5" r="1.9"/>
<circle cx="565.8" cy="66.1" r="1.9"/>
<circle cx="572.1" cy="64.5" r="1.9"/>
<circle cx="574.0" cy="66.4" r="1.9"/>
<circle cx="566.5" cy="69.5" r="1.9"/>
<circle cx="572.1" cy="68.9" r="1.9"/>
<circle cx="596.4" cy="39.4" r="1.9"/>
<circle cx="607.7" cy="40.6" r="1.9"/>
<circle cx="607.1" cy="42.5" r="1.9"/>
<circle cx="602.1" cy="43.8" r="1.9"/>
<circle cx="596.4" cy="45.0" r="1.9"/>
<circle cx="593.3" cy="47.5" r="1.9"/>
<circle cx="597.1" cy="48.8" r="1.9"/>
<circle cx="601.5" cy="46.9" r="1.9"/>
<circle cx="605.2" cy="45.7" r="1.9"/>
<circle cx="609.6" cy="45.0" r="1.9"/>
<circle cx="585.2" cy="52.6" r="1.9"/>
<circle cx="579.5" cy="53.8" r="1.9"/>
<circle cx="580.1" cy="57.0" r="1.9"/>
<circle cx="577.6" cy="58.8" r="1.9"/>
<circle cx="582.0" cy="60.1" r="1.9"/>
<circle cx="578.9" cy="62.0" r="1.9"/>
<circle cx="583.3" cy="63.9" r="1.9"/>
<circle cx="578.3" cy="65.7" r="1.9"/>
<circle cx="580.8" cy="68.3" r="1.9"/>
<circle cx="586.4" cy="66.4" r="1.9"/>
<circle cx="588.9" cy="63.9" r="1.9"/>
<circle cx="589.5" cy="55.1" r="1.9"/>
<circle cx="592.1" cy="53.2" r="1.9"/>
<circle cx="594.6" cy="51.3" r="1.9"/>
<circle cx="597.1" cy="52.6" r="1.9"/>
<circle cx="600.2" cy="50.1" r="1.9"/>
<circle cx="604.0" cy="49.4" r="1.9"/>
<circle cx="607.7" cy="48.8" r="1.9"/>
<circle cx="610.2" cy="50.7" r="1.9"/>
<circle cx="593.3" cy="57.0" r="1.9"/>
<circle cx="596.4" cy="55.7" r="1.9"/>
<circle cx="599.0" cy="55.1" r="1.9"/>
<circle cx="602.1" cy="53.8" r="1.9"/>
<circle cx="605.9" cy="53.2" r="1.9"/>
<circle cx="609.0" cy="53.8" r="1.9"/>
<circle cx="590.8" cy="60.1" r="1.9"/>
<circle cx="594.6" cy="60.1" r="1.9"/>
<circle cx="597.1" cy="58.8" r="1.9"/>
<circle cx="600.8" cy="58.2" r="1.9"/>
<circle cx="604.6" cy="57.0" r="1.9"/>
<circle cx="607.7" cy="57.6" r="1.9"/>
<circle cx="592.1" cy="64.5" r="1.9"/>
<circle cx="595.2" cy="63.2" r="1.9"/>
<circle cx="598.3" cy="62.0" r="1.9"/>
<circle cx="602.1" cy="61.3" r="1.9"/>
<circle cx="605.9" cy="60.7" r="1.9"/>
<circle cx="609.6" cy="60.1" r="1.9"/>
<circle cx="590.2" cy="68.3" r="1.9"/>
<circle cx="593.3" cy="67.0" r="1.9"/>
<circle cx="584.5" cy="60.1" r="1.9"/>
<circle cx="587.0" cy="57.6" r="1.9"/>
<circle cx="583.9" cy="55.7" r="1.9"/>
<circle cx="610.9" cy="47.5" r="1.9"/>
<circle cx="614.5" cy="36.9" r="1.9"/>
<circle cx="617.6" cy="36.3" r="1.9"/>
<circle cx="620.2" cy="35.6" r="1.9"/>
<circle cx="613.9" cy="40.0" r="1.9"/>
<circle cx="616.4" cy="40.6" r="1.9"/>
<circle cx="619.5" cy="39.4" r="1.9"/>
<circle cx="614.5" cy="43.2" r="1.9"/>
<circle cx="617.6" cy="43.8" r="1.9"/>
<circle cx="620.8" cy="43.2" r="1.9"/>
<circle cx="615.8" cy="46.3" r="1.9"/>
<circle cx="619.5" cy="46.9" r="1.9"/>
<circle cx="628.3" cy="36.9" r="1.9"/>
<circle cx="631.4" cy="36.3" r="1.9"/>
<circle cx="629.6" cy="39.4" r="1.9"/>
<circle cx="632.1" cy="40.6" r="1.9"/>
<circle cx="628.3" cy="43.2" r="1.9"/>
<circle cx="632.1" cy="43.8" r="1.9"/>
<circle cx="627.1" cy="46.9" r="1.9"/>
<circle cx="631.4" cy="46.3" r="1.9"/>
<circle cx="613.9" cy="51.3" r="1.9"/>
<circle cx="617.6" cy="50.7" r="1.9"/>
<circle cx="622.0" cy="50.1" r="1.9"/>
<circle cx="614.5" cy="55.1" r="1.9"/>
<circle cx="618.3" cy="54.4" r="1.9"/>
<circle cx="622.0" cy="53.8" r="1.9"/>
<circle cx="617.0" cy="57.6" r="1.9"/>
<circle cx="620.8" cy="58.2" r="1.9"/>
<circle cx="623.3" cy="57.0" r="1.9"/>
<circle cx="613.9" cy="59.5" r="1.9"/>
<circle cx="618.9" cy="60.7" r="1.9"/>
<circle cx="622.0" cy="61.3" r="1.9"/>
<circle cx="627.7" cy="57.6" r="1.9"/>
<circle cx="630.8" cy="56.3" r="1.9"/>
<circle cx="632.7" cy="51.9" r="1.9"/>
<circle cx="638.3" cy="51.1" r="1.9"/>
<circle cx="614.5" cy="68.9" r="1.9"/>
<circle cx="623.9" cy="48.8" r="1.9"/>
<circle cx="655.1" cy="13.8" r="1.9"/>
<circle cx="657.0" cy="12.8" r="1.9"/>
<circle cx="645.1" cy="20.6" r="1.9"/>
<circle cx="654.5" cy="20.3" r="1.9"/>
<circle cx="656.4" cy="19.4" r="1.9"/>
<circle cx="623.3" cy="29.4" r="1.9"/>
<circle cx="631.4" cy="28.1" r="1.9"/>
<circle cx="638.3" cy="32.8" r="1.9"/>
<circle cx="654.5" cy="31.3" r="1.9"/>
<circle cx="656.8" cy="29.8" r="1.9"/>
<circle cx="618.3" cy="33.8" r="1.9"/>
<circle cx="621.4" cy="33.8" r="1.9"/>
<circle cx="632.6" cy="34.8" r="1.9"/>
<circle cx="558.5" cy="73.9" r="1.9"/>
<circle cx="561.0" cy="77.9" r="1.9"/>
<circle cx="554.9" cy="79.3" r="1.9"/>
<circle cx="551.0" cy="79.0" r="1.9"/>
<circle cx="547.7" cy="80.8" r="1.9"/>
<circle cx="543.4" cy="81.5" r="1.9"/>
<circle cx="543.1" cy="86.1" r="1.9"/>
<circle cx="551.0" cy="85.1" r="1.9"/>
<circle cx="558.5" cy="82.2" r="1.9"/>
<circle cx="557.0" cy="84.3" r="1.9"/>
<circle cx="559.9" cy="84.3" r="1.9"/>
<circle cx="556.3" cy="87.2" r="1.9"/>
<circle cx="559.2" cy="87.2" r="1.9"/>
<circle cx="561.0" cy="88.3" r="1.9"/>
<circle cx="553.8" cy="89.0" r="1.9"/>
<circle cx="549.2" cy="89.7" r="1.9"/>
<circle cx="571.0" cy="91.2" r="1.9"/>
<circle cx="572.8" cy="89.4" r="1.9"/>
<circle cx="576.0" cy="89.8" r="1.9"/>
<circle cx="579.2" cy="89.4" r="1.9"/>
<circle cx="576.3" cy="93.0" r="1.9"/>
<circle cx="573.5" cy="93.4" r="1.9"/>
<circle cx="569.5" cy="94.1" r="1.9"/>
<circle cx="567.7" cy="95.9" r="1.9"/>
<circle cx="571.3" cy="96.2" r="1.9"/>
<circle cx="564.2" cy="95.2" r="1.9"/>
<circle cx="562.7" cy="97.3" r="1.9"/>
<circle cx="565.2" cy="98.8" r="1.9"/>
<circle cx="569.9" cy="98.8" r="1.9"/>
<circle cx="581.0" cy="97.3" r="1.9"/>
<circle cx="575.6" cy="101.3" r="1.9"/>
<circle cx="571.0" cy="102.3" r="1.9"/>
<circle cx="563.4" cy="101.3" r="1.9"/>
<circle cx="564.2" cy="104.5" r="1.9"/>
<circle cx="569.9" cy="106.3" r="1.9"/>
<circle cx="566.3" cy="107.0" r="1.9"/>
<circle cx="578.5" cy="106.3" r="1.9"/>
<circle cx="569.2" cy="90.2" r="1.9"/>
<circle cx="566.3" cy="91.6" r="1.9"/>
<circle cx="563.4" cy="92.3" r="1.9"/>
<circle cx="581.6" cy="63.8" r="1.9"/>
<circle cx="584.0" cy="63.3" r="1.9"/>
<circle cx="586.2" cy="63.4" r="1.9"/>
<circle cx="590.3" cy="63.9" r="1.9"/>
<circle cx="593.6" cy="62.6" r="1.9"/>
<circle cx="595.8" cy="63.3" r="1.9"/>
<circle cx="598.1" cy="62.9" r="1.9"/>
<circle cx="578.2" cy="65.6" r="1.9"/>
<circle cx="580.1" cy="65.9" r="1.9"/>
<circle cx="583.8" cy="66.1" r="1.9"/>
<circle cx="587.8" cy="66.3" r="1.9"/>
<circle cx="590.0" cy="66.2" r="1.9"/>
<circle cx="593.3" cy="65.2" r="1.9"/>
<circle cx="596.7" cy="66.5" r="1.9"/>
<circle cx="575.6" cy="69.9" r="1.9"/>
<circle cx="577.9" cy="69.0" r="1.9"/>
<circle cx="580.3" cy="68.3" r="1.9"/>
<circle cx="583.7" cy="68.6" r="1.9"/>
<circle cx="587.6" cy="68.4" r="1.9"/>
<circle cx="589.1" cy="69.8" r="1.9"/>
<circle cx="593.1" cy="68.4" r="1.9"/>
<circle cx="596.1" cy="68.1" r="1.9"/>
<circle cx="571.2" cy="71.6" r="1.9"/>
<circle cx="574.6" cy="72.3" r="1.9"/>
<circle cx="578.8" cy="71.9" r="1.9"/>
<circle cx="581.8" cy="72.9" r="1.9"/>
<circle cx="584.8" cy="71.8" r="1.9"/>
<circle cx="586.5" cy="71.5" r="1.9"/>
<circle cx="589.5" cy="71.5" r="1.9"/>
<circle cx="593.2" cy="72.7" r="1.9"/>
<circle cx="596.6" cy="72.0" r="1.9"/>
<circle cx="563.4" cy="74.4" r="1.9"/>
<circle cx="565.3" cy="74.4" r="1.9"/>
<circle cx="569.7" cy="75.6" r="1.9"/>
<circle cx="571.4" cy="75.6" r="1.9"/>
<circle cx="575.9" cy="75.3" r="1.9"/>
<circle cx="577.7" cy="75.1" r="1.9"/>
<circle cx="580.3" cy="74.1" r="1.9"/>
<circle cx="584.8" cy="75.3" r="1.9"/>
<circle cx="587.0" cy="75.8" r="1.9"/>
<circle cx="589.9" cy="75.7" r="1.9"/>
<circle cx="593.6" cy="74.5" r="1.9"/>
<circle cx="562.9" cy="77.4" r="1.9"/>
<circle cx="565.1" cy="78.5" r="1.9"/>
<circle cx="568.4" cy="78.0" r="1.9"/>
<circle cx="572.4" cy="78.1" r="1.9"/>
<circle cx="574.7" cy="78.0" r="1.9"/>
<circle cx="578.1" cy="78.5" r="1.9"/>
<circle cx="580.3" cy="78.1" r="1.9"/>
<circle cx="583.5" cy="77.6" r="1.9"/>
<circle cx="587.5" cy="78.0" r="1.9"/>
<circle cx="590.1" cy="78.5" r="1.9"/>
<circle cx="559.3" cy="80.9" r="1.9"/>
<circle cx="562.2" cy="80.5" r="1.9"/>
<circle cx="565.2" cy="81.3" r="1.9"/>
<circle cx="569.5" cy="81.7" r="1.9"/>
<circle cx="571.4" cy="81.4" r="1.9"/>
<circle cx="575.3" cy="80.4" r="1.9"/>
<circle cx="578.7" cy="81.8" r="1.9"/>
<circle cx="580.5" cy="81.8" r="1.9"/>
<circle cx="583.8" cy="81.0" r="1.9"/>
<circle cx="587.9" cy="81.6" r="1.9"/>
<circle cx="554.5" cy="84.8" r="1.9"/>
<circle cx="559.2" cy="84.5" r="1.9"/>
<circle cx="562.6" cy="83.3" r="1.9"/>
<circle cx="565.9" cy="84.7" r="1.9"/>
<circle cx="569.6" cy="83.6" r="1.9"/>
<circle cx="571.4" cy="84.8" r="1.9"/>
<circle cx="575.1" cy="84.4" r="1.9"/>
<circle cx="577.3" cy="83.2" r="1.9"/>
<circle cx="581.3" cy="83.9" r="1.9"/>
<circle cx="583.2" cy="84.8" r="1.9"/>
<circle cx="553.7" cy="86.6" r="1.9"/>
<circle cx="557.5" cy="86.6" r="1.9"/>
<circle cx="560.0" cy="86.4" r="1.9"/>
<circle cx="562.7" cy="86.1" r="1.9"/>
<circle cx="565.6" cy="86.1" r="1.9"/>
<circle cx="569.4" cy="87.1" r="1.9"/>
<circle cx="571.4" cy="87.0" r="1.9"/>
<circle cx="575.8" cy="86.3" r="1.9"/>
<circle cx="578.6" cy="86.9" r="1.9"/>
<circle cx="581.0" cy="87.6" r="1.9"/>
<circle cx="544.6" cy="89.4" r="1.9"/>
<circle cx="547.3" cy="90.6" r="1.9"/>
<circle cx="551.7" cy="90.3" r="1.9"/>
<circle cx="553.6" cy="89.5" r="1.9"/>
<circle cx="556.6" cy="89.9" r="1.9"/>
<circle cx="559.4" cy="89.9" r="1.9"/>
<circle cx="562.6" cy="90.8" r="1.9"/>
<circle cx="566.9" cy="90.1" r="1.9"/>
<circle cx="568.5" cy="90.8" r="1.9"/>
<circle cx="571.7" cy="89.7" r="1.9"/>
<circle cx="542.4" cy="93.7" r="1.9"/>
<circle cx="544.8" cy="92.7" r="1.9"/>
<circle cx="548.9" cy="92.4" r="1.9"/>
<circle cx="551.4" cy="93.3" r="1.9"/>
<circle cx="553.2" cy="93.6" r="1.9"/>
<circle cx="557.7" cy="93.2" r="1.9"/>
<circle cx="560.4" cy="93.6" r="1.9"/>
<circle cx="562.4" cy="93.0" r="1.9"/>
<circle cx="542.3" cy="95.2" r="1.9"/>
<circle cx="545.4" cy="95.6" r="1.9"/>
<circle cx="547.2" cy="95.6" r="1.9"/>
<circle cx="551.4" cy="95.5" r="1.9"/>
<circle cx="554.4" cy="96.9" r="1.9"/>
<circle cx="557.0" cy="95.8" r="1.9"/>
<circle cx="560.0" cy="96.3" r="1.9"/>
<circle cx="542.6" cy="99.8" r="1.9"/>
<circle cx="544.9" cy="98.6" r="1.9"/>
<circle cx="547.5" cy="99.8" r="1.9"/>
<circle cx="550.5" cy="99.1" r="1.9"/>
<circle cx="553.4" cy="99.0" r="1.9"/>
<circle cx="557.8" cy="98.3" r="1.9"/>
<circle cx="544.6" cy="101.2" r="1.9"/>
<circle cx="547.3" cy="102.6" r="1.9"/>
<circle cx="550.6" cy="102.8" r="1.9"/>
<circle cx="553.5" cy="101.6" r="1.9"/>
<circle cx="557.0" cy="101.4" r="1.9"/>
<circle cx="544.5" cy="105.7" r="1.9"/>
<circle cx="548.0" cy="104.5" r="1.9"/>
<circle cx="551.7" cy="105.9" r="1.9"/>
<circle cx="553.9" cy="104.4" r="1.9"/>
<circle cx="556.4" cy="104.3" r="1.9"/>
<circle cx="548.2" cy="107.1" r="1.9"/>
<circle cx="516.3" cy="117.4" r="1.9"/>
<circle cx="548.0" cy="125.7" r="1.9"/>
<circle cx="544.4" cy="118.1" r="1.9"/>
<circle cx="548.1" cy="128.4" r="1.9"/>
<circle cx="525.8" cy="127.0" r="1.9"/>
<circle cx="522.0" cy="108.3" r="1.9"/>
<circle cx="518.1" cy="115.6" r="1.9"/>
<circle cx="534.7" cy="105.7" r="1.9"/>
<circle cx="540.2" cy="129.9" r="1.9"/>
<circle cx="526.1" cy="106.0" r="1.9"/>
<circle cx="548.5" cy="110.8" r="1.9"/>
<circle cx="541.3" cy="107.1" r="1.9"/>
<circle cx="512.5" cy="130.9" r="1.9"/>
<circle cx="516.0" cy="139.4" r="1.9"/>
<circle cx="512.6" cy="115.5" r="1.9"/>
<circle cx="508.9" cy="114.4" r="1.9"/>
<circle cx="512.1" cy="140.4" r="1.9"/>
<circle cx="546.7" cy="111.6" r="1.9"/>
<circle cx="510.7" cy="138.7" r="1.9"/>
<circle cx="533.8" cy="113.8" r="1.9"/>
<circle cx="519.8" cy="111.7" r="1.9"/>
<circle cx="515.3" cy="112.5" r="1.9"/>
<circle cx="547.9" cy="102.3" r="1.9"/>
<circle cx="548.3" cy="106.1" r="1.9"/>
<circle cx="519.0" cy="133.6" r="1.9"/>
<circle cx="541.4" cy="116.2" r="1.9"/>
<circle cx="519.8" cy="138.0" r="1.9"/>
<circle cx="511.1" cy="113.1" r="1.9"/>
<circle cx="545.0" cy="98.2" r="1.9"/>
<circle cx="521.6" cy="133.2" r="1.9"/>
<circle cx="546.1" cy="108.3" r="1.9"/>
<circle cx="518.1" cy="109.0" r="1.9"/>
<circle cx="548.0" cy="124.4" r="1.9"/>
<circle cx="514.4" cy="128.9" r="1.9"/>
<circle cx="517.1" cy="109.1" r="1.9"/>
<circle cx="546.0" cy="125.2" r="1.9"/>
<circle cx="547.3" cy="97.9" r="1.9"/>
<circle cx="513.1" cy="118.1" r="1.9"/>
<circle cx="520.4" cy="108.0" r="1.9"/>
<circle cx="522.5" cy="118.9" r="1.9"/>
<circle cx="546.5" cy="105.0" r="1.9"/>
<circle cx="540.5" cy="129.9" r="1.9"/>
<circle cx="541.5" cy="131.4" r="1.9"/>
<circle cx="531.1" cy="111.5" r="1.9"/>
<circle cx="517.2" cy="113.0" r="1.9"/>
<circle cx="539.5" cy="100.3" r="1.9"/>
<circle cx="511.3" cy="130.5" r="1.9"/>
<circle cx="506.4" cy="119.1" r="1.9"/>
<circle cx="536.0" cy="116.8" r="1.9"/>
<circle cx="513.1" cy="115.5" r="1.9"/>
<circle cx="531.7" cy="127.0" r="1.9"/>
<circle cx="537.9" cy="134.7" r="1.9"/>
<circle cx="542.3" cy="110.0" r="1.9"/>
<circle cx="529.1" cy="113.5" r="1.9"/>
<circle cx="537.4" cy="105.7" r="1.9"/>
<circle cx="509.2" cy="136.4" r="1.9"/>
<circle cx="529.7" cy="111.4" r="1.9"/>
<circle cx="526.3" cy="107.2" r="1.9"/>
<circle cx="540.8" cy="126.1" r="1.9"/>
<circle cx="549.6" cy="101.4" r="1.9"/>
<circle cx="524.7" cy="133.5" r="1.9"/>
<circle cx="548.7" cy="122.9" r="1.9"/>
<circle cx="546.6" cy="113.5" r="1.9"/>
<circle cx="543.5" cy="116.9" r="1.9"/>
<circle cx="514.3" cy="131.6" r="1.9"/>
<circle cx="547.4" cy="101.5" r="1.9"/>
<circle cx="530.5" cy="124.6" r="1.9"/>
<circle cx="512.3" cy="113.3" r="1.9"/>
<circle cx="514.1" cy="123.7" r="1.9"/>
<circle cx="533.2" cy="105.9" r="1.9"/>
<circle cx="601.1" cy="43.9" r="1.9"/>
<circle cx="605.0" cy="55.5" r="1.9"/>
<circle cx="591.4" cy="55.6" r="1.9"/>
<circle cx="583.6" cy="60.3" r="1.9"/>
<circle cx="591.9" cy="47.1" r="1.9"/>
<circle cx="588.5" cy="68.5" r="1.9"/>
<circle cx="588.6" cy="56.1" r="1.9"/>
<circle cx="590.1" cy="51.3" r="1.9"/>
<circle cx="602.8" cy="44.5" r="1.9"/>
<circle cx="592.4" cy="64.3" r="1.9"/>
<circle cx="591.8" cy="66.3" r="1.9"/>
<circle cx="581.0" cy="57.9" r="1.9"/>
<circle cx="620.2" cy="48.6" r="1.9"/>
<circle cx="615.2" cy="42.6" r="1.9"/>
<circle cx="614.4" cy="48.2" r="1.9"/>
<circle cx="616.3" cy="38.4" r="1.9"/>
<circle cx="622.6" cy="36.4" r="1.9"/>
<circle cx="632.4" cy="45.5" r="1.9"/>
<circle cx="630.1" cy="39.3" r="1.9"/>
<circle cx="629.3" cy="41.0" r="1.9"/>
</g>
<line x1="38.50" y1="172.64" x2="285.28" y2="2.27" stroke="#2de82d" stroke-width="1.5" stroke-dasharray="3.3 3.2" stroke-linecap="butt"/>
<line x1="38.50" y1="191.57" x2="312.70" y2="2.27" stroke="#111" stroke-width="1.3" stroke-dasharray="3.3 3.2" stroke-linecap="butt"/>
<line x1="65.92" y1="210.50" x2="312.70" y2="40.13" stroke="#111" stroke-width="1.3" stroke-dasharray="3.3 3.2" stroke-linecap="butt"/>
<line x1="93.34" y1="210.50" x2="312.70" y2="59.06" stroke="#2de82d" stroke-width="1.5" stroke-dasharray="3.3 3.2" stroke-linecap="butt"/>
<line x1="402.50" y1="184.85" x2="641.94" y2="6.48" stroke="#2de82d" stroke-width="1.5" stroke-dasharray="3.3 3.2" stroke-linecap="butt"/>
<line x1="402.50" y1="198.06" x2="659.68" y2="6.48" stroke="#111" stroke-width="1.3" stroke-dasharray="3.3 3.2" stroke-linecap="butt"/>
<line x1="420.54" y1="211.50" x2="677.72" y2="19.92" stroke="#111" stroke-width="1.3" stroke-dasharray="3.3 3.2" stroke-linecap="butt"/>
<line x1="438.28" y1="211.50" x2="677.72" y2="33.13" stroke="#2de82d" stroke-width="1.5" stroke-dasharray="3.3 3.2" stroke-linecap="butt"/>
<line x1="38.50" y1="210.50" x2="312.70" y2="21.20" stroke="#f00" stroke-width="3.1" stroke-linecap="round"/>
<line x1="402.50" y1="211.50" x2="677.72" y2="6.48" stroke="#f00" stroke-width="3.1" stroke-linecap="round"/>
<line x1="38.50" y1="2.00" x2="38.50" y2="211.00" stroke="#777" stroke-width="1.3" stroke-linecap="butt"/>
<line x1="38.00" y1="210.50" x2="313.00" y2="210.50" stroke="#777" stroke-width="1.3" stroke-linecap="butt"/>
<line x1="38.50" y1="210.50" x2="41.50" y2="210.50" stroke="#777" stroke-width="1" stroke-linecap="butt"/>
<line x1="38.50" y1="210.50" x2="38.50" y2="207.50" stroke="#777" stroke-width="1" stroke-linecap="butt"/>
<line x1="38.50" y1="172.64" x2="41.50" y2="172.64" stroke="#777" stroke-width="1" stroke-linecap="butt"/>
<line x1="93.34" y1="210.50" x2="93.34" y2="207.50" stroke="#777" stroke-width="1" stroke-linecap="butt"/>
<line x1="38.50" y1="134.78" x2="41.50" y2="134.78" stroke="#777" stroke-width="1" stroke-linecap="butt"/>
<line x1="148.18" y1="210.50" x2="148.18" y2="207.50" stroke="#777" stroke-width="1" stroke-linecap="butt"/>
<line x1="38.50" y1="96.92" x2="41.50" y2="96.92" stroke="#777" stroke-width="1" stroke-linecap="butt"/>
<line x1="203.02" y1="210.50" x2="203.02" y2="207.50" stroke="#777" stroke-width="1" stroke-linecap="butt"/>
<line x1="38.50" y1="59.06" x2="41.50" y2="59.06" stroke="#777" stroke-width="1" stroke-linecap="butt"/>
<line x1="257.86" y1="210.50" x2="257.86" y2="207.50" stroke="#777" stroke-width="1" stroke-linecap="butt"/>
<line x1="38.50" y1="21.20" x2="41.50" y2="21.20" stroke="#777" stroke-width="1" stroke-linecap="butt"/>
<line x1="312.70" y1="210.50" x2="312.70" y2="207.50" stroke="#777" stroke-width="1" stroke-linecap="butt"/>
<line x1="402.50" y1="6.50" x2="402.50" y2="212.00" stroke="#777" stroke-width="1.3" stroke-linecap="butt"/>
<line x1="402.00" y1="211.50" x2="678.00" y2="211.50" stroke="#777" stroke-width="1.3" stroke-linecap="butt"/>
<line x1="402.50" y1="211.50" x2="405.50" y2="211.50" stroke="#777" stroke-width="1" stroke-linecap="butt"/>
<line x1="402.50" y1="188.72" x2="405.50" y2="188.72" stroke="#777" stroke-width="1" stroke-linecap="butt"/>
<line x1="402.50" y1="165.94" x2="405.50" y2="165.94" stroke="#777" stroke-width="1" stroke-linecap="butt"/>
<line x1="402.50" y1="143.16" x2="405.50" y2="143.16" stroke="#777" stroke-width="1" stroke-linecap="butt"/>
<line x1="402.50" y1="120.38" x2="405.50" y2="120.38" stroke="#777" stroke-width="1" stroke-linecap="butt"/>
<line x1="402.50" y1="97.60" x2="405.50" y2="97.60" stroke="#777" stroke-width="1" stroke-linecap="butt"/>
<line x1="402.50" y1="74.82" x2="405.50" y2="74.82" stroke="#777" stroke-width="1" stroke-linecap="butt"/>
<line x1="402.50" y1="52.04" x2="405.50" y2="52.04" stroke="#777" stroke-width="1" stroke-linecap="butt"/>
<line x1="402.50" y1="29.26" x2="405.50" y2="29.26" stroke="#777" stroke-width="1" stroke-linecap="butt"/>
<line x1="402.50" y1="6.48" x2="405.50" y2="6.48" stroke="#777" stroke-width="1" stroke-linecap="butt"/>
<line x1="433.08" y1="211.50" x2="433.08" y2="208.50" stroke="#777" stroke-width="1" stroke-linecap="butt"/>
<line x1="494.24" y1="211.50" x2="494.24" y2="208.50" stroke="#777" stroke-width="1" stroke-linecap="butt"/>
<line x1="555.40" y1="211.50" x2="555.40" y2="208.50" stroke="#777" stroke-width="1" stroke-linecap="butt"/>
<line x1="616.56" y1="211.50" x2="616.56" y2="208.50" stroke="#777" stroke-width="1" stroke-linecap="butt"/>
<line x1="677.72" y1="211.50" x2="677.72" y2="208.50" stroke="#777" stroke-width="1" stroke-linecap="butt"/>
<text x="34.5" y="214.2" font-family="Liberation Sans, sans-serif" font-size="13" text-anchor="end">-6</text>
<text x="34.5" y="176.3" font-family="Liberation Sans, sans-serif" font-size="13" text-anchor="end">-4</text>
<text x="34.5" y="138.5" font-family="Liberation Sans, sans-serif" font-size="13" text-anchor="end">-2</text>
<text x="34.5" y="100.6" font-family="Liberation Sans, sans-serif" font-size="13" text-anchor="end">0</text>
<text x="34.5" y="62.8" font-family="Liberation Sans, sans-serif" font-size="13" text-anchor="end">2</text>
<text x="34.5" y="24.9" font-family="Liberation Sans, sans-serif" font-size="13" text-anchor="end">4</text>
<text x="38.5" y="223.8" font-family="Liberation Sans, sans-serif" font-size="13" text-anchor="middle">-6</text>
<text x="93.3" y="223.8" font-family="Liberation Sans, sans-serif" font-size="13" text-anchor="middle">-4</text>
<text x="148.2" y="223.8" font-family="Liberation Sans, sans-serif" font-size="13" text-anchor="middle">-2</text>
<text x="203.0" y="223.8" font-family="Liberation Sans, sans-serif" font-size="13" text-anchor="middle">0</text>
<text x="257.9" y="223.8" font-family="Liberation Sans, sans-serif" font-size="13" text-anchor="middle">2</text>
<text x="312.7" y="223.8" font-family="Liberation Sans, sans-serif" font-size="13" text-anchor="middle">4</text>
<text x="398" y="215.2" font-family="Liberation Sans, sans-serif" font-size="13" text-anchor="end">3</text>
<text x="398" y="192.4" font-family="Liberation Sans, sans-serif" font-size="13" text-anchor="end">4</text>
<text x="398" y="169.6" font-family="Liberation Sans, sans-serif" font-size="13" text-anchor="end">5</text>
<text x="398" y="146.9" font-family="Liberation Sans, sans-serif" font-size="13" text-anchor="end">6</text>
<text x="398" y="124.1" font-family="Liberation Sans, sans-serif" font-size="13" text-anchor="end">7</text>
<text x="398" y="101.3" font-family="Liberation Sans, sans-serif" font-size="13" text-anchor="end">8</text>
<text x="398" y="78.5" font-family="Liberation Sans, sans-serif" font-size="13" text-anchor="end">9</text>
<text x="398" y="55.7" font-family="Liberation Sans, sans-serif" font-size="13" text-anchor="end">10</text>
<text x="398" y="33.0" font-family="Liberation Sans, sans-serif" font-size="13" text-anchor="end">11</text>
<text x="398" y="10.2" font-family="Liberation Sans, sans-serif" font-size="13" text-anchor="end">12</text>
<text x="433.1" y="224.8" font-family="Liberation Sans, sans-serif" font-size="13" text-anchor="middle">4</text>
<text x="494.2" y="224.8" font-family="Liberation Sans, sans-serif" font-size="13" text-anchor="middle">6</text>
<text x="555.4" y="224.8" font-family="Liberation Sans, sans-serif" font-size="13" text-anchor="middle">8</text>
<text x="616.6" y="224.8" font-family="Liberation Sans, sans-serif" font-size="13" text-anchor="middle">10</text>
<text x="677.7" y="224.8" font-family="Liberation Sans, sans-serif" font-size="13" text-anchor="middle">12</text>
<text x="110.2" y="243.7" font-family="Liberation Sans, sans-serif" font-size="14.5" textLength="34.6" lengthAdjust="spacingAndGlyphs">RDR</text>
<text x="147.8" y="244.7" font-family="Liberation Sans, sans-serif" font-size="10" textLength="15.2" lengthAdjust="spacingAndGlyphs">Col</text>
<text x="165.2" y="243.7" font-family="Liberation Sans, sans-serif" font-size="14" textLength="70.2" lengthAdjust="spacingAndGlyphs">(Predicted)</text>
<text x="476.7" y="245.2" font-family="Liberation Sans, sans-serif" font-size="15">E</text>
<text x="486.6" y="245.8" font-family="Liberation Sans, sans-serif" font-size="9.5">h</text>
<text x="496.2" y="245.8" font-family="Liberation Sans, sans-serif" font-size="9.5" textLength="33.2" lengthAdjust="spacingAndGlyphs">Column</text>
<text x="532.1" y="245.0" font-family="Liberation Sans, sans-serif" font-size="13.2" textLength="66.2" lengthAdjust="spacingAndGlyphs">(Predicted)</text>
<text transform="translate(10.8,166.2) rotate(-90)" font-family="Liberation Sans, sans-serif" font-size="14.5" textLength="32.5" lengthAdjust="spacingAndGlyphs">RDR</text>
<text transform="translate(13.0,131.0) rotate(-90)" font-family="Liberation Sans, sans-serif" font-size="10" textLength="15.2" lengthAdjust="spacingAndGlyphs">Col</text>
<text transform="translate(10.8,108.6) rotate(-90)" font-family="Liberation Sans, sans-serif" font-size="14" textLength="68.5" lengthAdjust="spacingAndGlyphs">(Observed)</text>
<text transform="translate(373.7,166.8) rotate(-90)" font-family="Liberation Sans, sans-serif" font-size="14.5">E</text>
<text transform="translate(374.4,157.0) rotate(-90)" font-family="Liberation Sans, sans-serif" font-size="9.5">h</text>
<text transform="translate(375.3,148.0) rotate(-90)" font-family="Liberation Sans, sans-serif" font-size="9.5" textLength="33.2" lengthAdjust="spacingAndGlyphs">Column</text>
<text transform="translate(372.6,111.6) rotate(-90)" font-family="Liberation Sans, sans-serif" font-size="13.2" textLength="65.2" lengthAdjust="spacingAndGlyphs">(Observed)</text>
<rect x="48.5" y="8.5" width="77" height="30.5" fill="#fff" stroke="#ffeb55" stroke-width="1"/>
<text x="52.6" y="21.7" font-family="Liberation Sans, sans-serif" font-size="10.8" textLength="8.6" lengthAdjust="spacingAndGlyphs">R</text>
<text x="61.5" y="15.7" font-family="Liberation Sans, sans-serif" font-size="9">2</text>
<text x="70.1" y="23.2" font-family="Liberation Sans, sans-serif" font-size="11" font-weight="bold" style="stroke-width:0.25px">=</text>
<text x="78.30000000000001" y="21.7" font-family="Liberation Sans, sans-serif" font-size="10.9" font-weight="bold" style="stroke-width:0.1px">0.82</text>
<text x="52.6" y="33.4" font-family="Liberation Sans, sans-serif" font-size="10.8" textLength="34.2" lengthAdjust="spacingAndGlyphs">RMSE</text>
<text x="90.2" y="34.9" font-family="Liberation Sans, sans-serif" font-size="11" font-weight="bold" style="stroke-width:0.25px">=</text>
<text x="98.4" y="33.4" font-family="Liberation Sans, sans-serif" font-size="10.9" font-weight="bold" style="stroke-width:0.1px">0.76</text>
<rect x="412.5" y="10.5" width="75" height="31" fill="#fff" stroke="#ffeb55" stroke-width="1"/>
<text x="416.2" y="25.3" font-family="Liberation Sans, sans-serif" font-size="10.8" textLength="8.6" lengthAdjust="spacingAndGlyphs">R</text>
<text x="425.1" y="19.3" font-family="Liberation Sans, sans-serif" font-size="9">2</text>
<text x="433.7" y="26.8" font-family="Liberation Sans, sans-serif" font-size="11" font-weight="bold" style="stroke-width:0.25px">=</text>
<text x="441.90000000000003" y="25.3" font-family="Liberation Sans, sans-serif" font-size="10.9" font-weight="bold" style="stroke-width:0.1px">0.90</text>
<text x="416.2" y="36.9" font-family="Liberation Sans, sans-serif" font-size="10.8" textLength="34.2" lengthAdjust="spacingAndGlyphs">RMSE</text>
<text x="453.8" y="38.4" font-family="Liberation Sans, sans-serif" font-size="11" font-weight="bold" style="stroke-width:0.25px">=</text>
<text x="462.0" y="36.9" font-family="Liberation Sans, sans-serif" font-size="10.9" font-weight="bold" style="stroke-width:0.1px">0.56</text>
<text x="177" y="272" font-family="Liberation Serif, serif" font-weight="bold" font-size="17" text-anchor="middle" style="stroke-width:0">(a)</text>
<text x="514" y="276" font-family="Liberation Serif, serif" font-weight="bold" font-size="17" text-anchor="middle" style="stroke-width:0">(b)</text>
</svg>
</body></html>
